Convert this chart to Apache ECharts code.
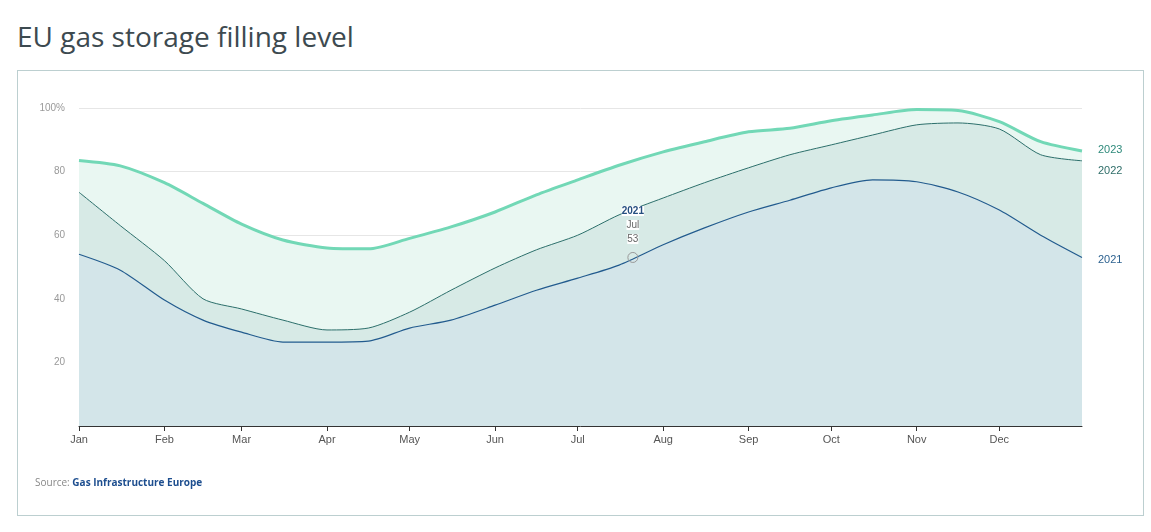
<!DOCTYPE html>
<html><head><meta charset="utf-8">
<script src="https://cdn.jsdelivr.net/npm/echarts@6/dist/echarts.min.js"></script>
<style>
body{margin:0;background:#fff;font-family:"Source Sans Pro","Noto Sans",sans-serif}
#t{position:absolute;left:17px;top:17px;font-size:28px;color:#3d4a50;font-family:"Open Sans","Noto Sans",sans-serif}
#box{position:absolute;left:17px;top:70px;width:1127px;height:446px;border:1px solid #bccfd0;box-sizing:border-box}
#c{position:absolute;left:0;top:0;width:1151px;height:532px}
#src{position:absolute;left:35px;top:475px;font-size:10px;color:#888;font-family:"Open Sans","Noto Sans",sans-serif}
#src b{color:#1d4e8f}
</style></head><body>
<div id="t">EU gas storage filling level</div>
<div id="box"></div>
<div id="c"></div>
<div id="src">Source: <b>Gas Infrastructure Europe</b></div>
<script>
const days=[0,15,31,45,59,74,90,105,120,135,151,166,181,196,212,227,243,258,273,288,304,319,334,349,364];
const v2023=[83.5,81.8,76.5,70,63.5,58.5,56,55.7,59,62.6,67.3,72.7,77.4,82,86.2,89.4,92.5,93.6,96,97.8,99.5,99.2,95.7,89.4,86.5];
const v2022=[73.5,63,52,40,36.8,33.3,30.2,30.8,35.8,42.7,49.7,55.4,60,66.4,71.7,76.5,81.2,85.3,88.4,91.5,94.7,95.3,93.4,85.3,83.4];
const v2021=[54,49,39.6,33.3,29.5,26.4,26.4,26.7,30.8,33.3,38,42.7,46.5,50.6,57,62.3,67.3,71,74.9,77.4,76.8,73.6,67.9,60,53];
const monthStarts=[0,31,59,90,120,151,181,212,243,273,304,334];
const monthNames=['Jan','Feb','Mar','Apr','May','Jun','Jul','Aug','Sep','Oct','Nov','Dec'];
const yTicks=[20,40,60,80,100];
const pair=a=>days.map((d,i)=>[d,a[i]]);
const chart=echarts.init(document.getElementById('c'));
function s(name,data,line,w,fill,lab,off,z){
 return {name,type:'line',data:pair(data),smooth:0.25,symbol:'none',z,
  lineStyle:{color:line,width:w},areaStyle:{color:fill,opacity:1},
  endLabel:{show:true,formatter:name,color:lab,fontSize:11,offset:off}};
}
const s21=s('2021',v2021,'#225b8e',1.2,'#d3e5e9','#2d6290',[8,3],4);
s21.markPoint={symbol:'circle',symbolSize:10,data:[{coord:[201,53]}],
 itemStyle:{color:'rgba(0,0,0,0)',borderColor:'#999',borderWidth:1},
 label:{show:true,position:'top',distance:6,formatter:'{a|2021}\n{b|Jul}\n{b|53}',
  rich:{a:{fontWeight:'bold',color:'#264f80',fontSize:10,lineHeight:14,backgroundColor:'#fff'},b:{color:'#666',fontSize:10,lineHeight:14,backgroundColor:'#fff'}}}};
chart.setOption({
 animation:false,
 grid:{left:79,right:69,top:108,bottom:106},
 xAxis:{type:'value',min:0,max:364,
  axisLine:{lineStyle:{color:'#333'}},
  axisTick:{show:true,customValues:monthStarts,length:5,lineStyle:{color:'#333'}},
  axisLabel:{customValues:monthStarts,formatter:v=>monthNames[monthStarts.indexOf(v)],color:'#555',fontSize:11},
  splitLine:{show:false}},
 yAxis:{type:'value',min:0,max:100,interval:20,
  axisLabel:{customValues:yTicks,formatter:v=>v===100?'100%':v,color:'#999',fontSize:10,margin:14},
  splitLine:{lineStyle:{color:'#e6e6e6'}},axisLine:{show:false},axisTick:{show:false}},
 series:[
  s('2023',v2023,'#72d8b6',3,'#e9f7f2','#2e8a7b',[8,-1],2),
  s('2022',v2022,'#2c6f6b',1,'#d7eae6','#2f6e69',[8,10],3),
  s21
 ]
});
</script></body></html>
